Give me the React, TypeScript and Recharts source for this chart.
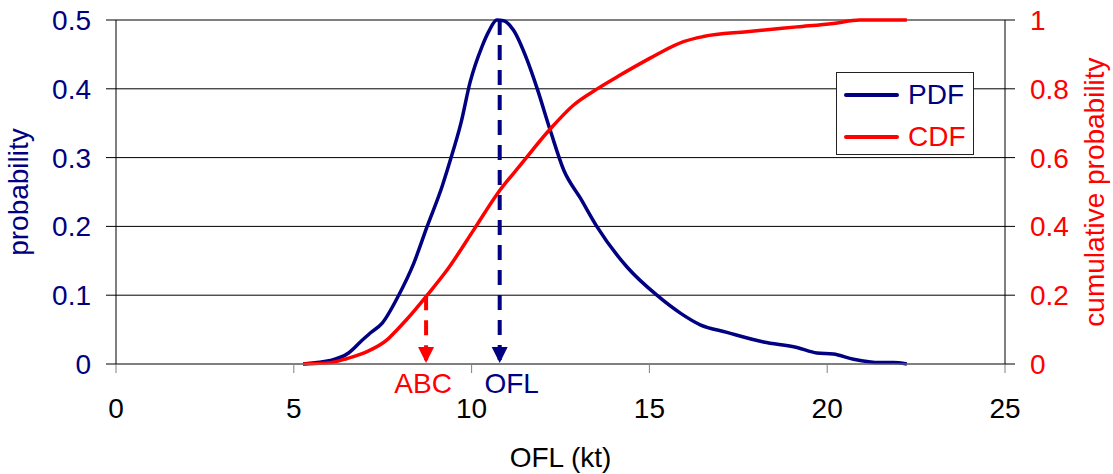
import { ComposedChart, Line, XAxis, YAxis, CartesianGrid, Legend, Label } from "recharts"

const NAVY = "#000080"
const RED = "#ff0000"
const FONT = "Arial, 'Liberation Sans', sans-serif"
const FS = 28

// axis ticks
const xTicks = [0, 5, 10, 15, 20, 25]
const probTicks = [0, 0.1, 0.2, 0.3, 0.4, 0.5]
const cumTicks = [0, 0.2, 0.4, 0.6, 0.8, 1]

// PDF curve
const pdfOfl = [5.26, 5.6, 6.03, 6.54, 6.87, 7.15, 7.48, 7.95, 8.37, 8.75, 9.17, 9.4, 9.7, 9.96, 10.29, 10.48, 10.71, 10.9, 11.18, 11.56, 11.84, 12.21, 12.59, 13.06, 13.52, 14.37, 15.21, 15.87, 16.43, 17.18, 18.21, 19.15, 19.71, 20.17, 20.74, 21.49, 21.86, 22.24]
const pdfProb = [0, 0.002, 0.005, 0.016, 0.032, 0.045, 0.059, 0.1, 0.146, 0.2, 0.258, 0.296, 0.35, 0.41, 0.461, 0.483, 0.5, 0.499, 0.485, 0.442, 0.401, 0.34, 0.282, 0.241, 0.2, 0.141, 0.1, 0.074, 0.057, 0.046, 0.032, 0.024, 0.016, 0.0145, 0.007, 0.002, 0.002, 0]

// CDF curve
const cdfOfl = [5.26, 6.03, 6.5, 7.06, 7.62, 7.9, 8.18, 8.75, 9.31, 10.06, 10.76, 11.37, 12.21, 12.87, 13.52, 14.18, 14.93, 15.3, 15.96, 16.52, 17.74, 19.15, 20.17, 20.92, 22.24]
const cdfProb = [0, 0.004, 0.016, 0.036, 0.07, 0.099, 0.13, 0.2, 0.273, 0.39, 0.5, 0.578, 0.683, 0.753, 0.799, 0.84, 0.884, 0.905, 0.937, 0.952, 0.966, 0.98, 0.99, 1.0, 1.0]

// marker arrows
const oflValue = 10.79
const oflTop = 0.5
const abcValue = 8.72
const abcTop = 0.2

const legendItems = [
  { name: "PDF", color: NAVY },
  { name: "CDF", color: RED },
]

const pdfData = pdfOfl.map((x, i) => ({ x, pdf: pdfProb[i] }))
const cdfData = cdfOfl.map((x, i) => ({ x, cdf: cdfProb[i] }))
const oflArrow = [{ x: oflValue, y: oflTop }, { x: oflValue, y: 0 }]
const abcArrow = [{ x: abcValue, y: abcTop }, { x: abcValue, y: 0 }]

const arrowHead = (color: string, label: string, dx: number) => (props: any) => {
  const { cx, cy, index } = props
  if (index !== 1) return <g key={`ah-${label}-${index}`} />
  return (
    <g key={`ah-${label}-${index}`}>
      <path d={`M${cx - 8},${cy - 17} L${cx + 8},${cy - 17} L${cx},${cy - 1} Z`} fill={color} />
      <text x={cx + dx} y={cy + 29} textAnchor="middle" fill={color} fontSize={FS} fontFamily={FONT}>
        {label}
      </text>
    </g>
  )
}

const renderLegend = () => (
  <div
    style={{
      position: "relative",
      width: 136,
      height: 81,
      border: "1px solid #222",
      background: "#fff",
      fontFamily: FONT,
      fontSize: FS,
    }}
  >
    {legendItems.map((item, i) => (
      <div key={item.name} style={{ position: "absolute", left: 7, top: 22 + i * 42 - 14, height: 28, display: "flex", alignItems: "center" }}>
        <div style={{ width: 55, height: 4, borderRadius: 2, background: item.color }} />
        <span style={{ color: item.color, marginLeft: 9, lineHeight: "28px" }}>{item.name}</span>
      </div>
    ))}
  </div>
)

export default function App() {
  return (
    <div style={{ position: "absolute", left: 0, top: 0, background: "#fff" }}>
      <ComposedChart width={1113} height={474} margin={{ top: 20, right: 0, left: 0, bottom: 0 }}>
        <CartesianGrid yAxisId="left" vertical={false} stroke="#000" strokeWidth={1} />
        <XAxis
          dataKey="x"
          type="number"
          domain={[0, 25]}
          ticks={xTicks}
          height={110}
          tickSize={9}
          tickMargin={25}
          axisLine={{ stroke: "#808080" }}
          tickLine={{ stroke: "#808080" }}
          tick={{ fill: "#000", fontSize: FS, fontFamily: FONT }}
        >
          <Label
            content={(p: any) => (
              <text x={p.viewBox.x + p.viewBox.width / 2} y={467} textAnchor="middle" fill="#000" fontSize={FS} fontFamily={FONT}>
                OFL (kt)
              </text>
            )}
          />
        </XAxis>
        <YAxis
          yAxisId="left"
          domain={[0, 0.5]}
          ticks={probTicks}
          width={116}
          tickSize={10}
          tickMargin={15}
          axisLine={{ stroke: "#000" }}
          tickLine={{ stroke: "#000" }}
          tick={{ fill: NAVY, fontSize: FS, fontFamily: FONT }}
        >
          <Label
            content={(p: any) => {
              const x = p.viewBox.x + 28
              const y = p.viewBox.y + p.viewBox.height / 2
              return (
                <text x={x} y={y} transform={`rotate(-90, ${x}, ${y})`} textAnchor="middle" fill={NAVY} fontSize={FS} fontFamily={FONT}>
                  probability
                </text>
              )
            }}
          />
        </YAxis>
        <YAxis
          yAxisId="right"
          orientation="right"
          domain={[0, 1]}
          ticks={cumTicks}
          width={108}
          tickSize={10}
          tickMargin={15}
          axisLine={{ stroke: "#000" }}
          tickLine={{ stroke: "#000" }}
          tick={{ fill: RED, fontSize: FS, fontFamily: FONT }}
        >
          <Label
            content={(p: any) => {
              const x = p.viewBox.x + 99
              const y = p.viewBox.y + p.viewBox.height / 2
              return (
                <text x={x} y={y} transform={`rotate(-90, ${x}, ${y})`} textAnchor="middle" fill={RED} fontSize={FS} fontFamily={FONT}>
                  cumulative probability
                </text>
              )
            }}
          />
        </YAxis>
        <Legend
          layout="vertical"
          align="center"
          verticalAlign="middle"
          content={renderLegend}
          wrapperStyle={{ left: 836, top: 72, width: 138, height: 83 }}
        />
        <Line
          yAxisId="right"
          data={abcArrow}
          dataKey="y"
          stroke={RED}
          strokeWidth={4}
          strokeDasharray="15 10"
          dot={arrowHead(RED, "ABC", -3)}
          legendType="none"
          isAnimationActive={false}
        />
        <Line
          yAxisId="left"
          data={oflArrow}
          dataKey="y"
          stroke={NAVY}
          strokeWidth={4}
          strokeDasharray="15 10"
          dot={arrowHead(NAVY, "OFL", 12)}
          legendType="none"
          isAnimationActive={false}
        />
        <Line
          yAxisId="left"
          data={pdfData}
          dataKey="pdf"
          name="PDF"
          type="monotone"
          stroke={NAVY}
          strokeWidth={3.5}
          dot={false}
          isAnimationActive={false}
        />
        <Line
          yAxisId="right"
          data={cdfData}
          dataKey="cdf"
          name="CDF"
          type="monotone"
          stroke={RED}
          strokeWidth={3.5}
          dot={false}
          isAnimationActive={false}
        />
      </ComposedChart>
    </div>
  )
}
